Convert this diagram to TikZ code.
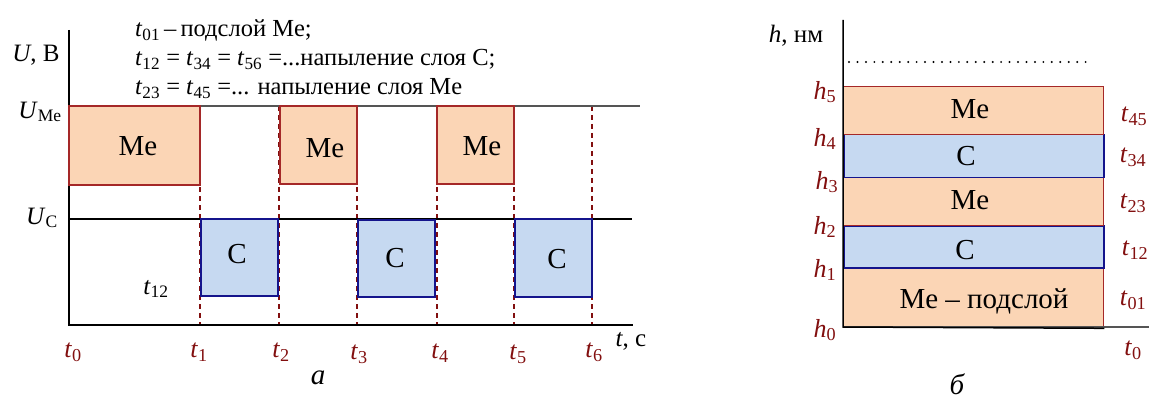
\documentclass[tikz,border=0pt]{standalone}
\usepackage{fontspec}
\setmainfont{Liberation Serif}
\usetikzlibrary{calc}
\definecolor{mefill}{RGB}{251,213,181}
\definecolor{meedge}{RGB}{165,40,40}
\definecolor{cfill}{RGB}{198,217,241}
\definecolor{cedge}{RGB}{20,20,140}
\definecolor{lblred}{RGB}{130,15,15}
\definecolor{axgray}{RGB}{85,85,85}
\newcommand{\tsb}[1]{\textit{t}\textsubscript{#1}}
\newcommand{\hsb}[1]{\textit{h}\textsubscript{#1}}
\begin{document}
\begin{tikzpicture}[x=1pt,y=-1pt,
  mebox/.style={draw=meedge,fill=mefill,line width=1.3pt},
  cbox/.style={draw=cedge,fill=cfill,line width=1.5pt},
  boxtext/.style={font=\fontsize{29}{32}\selectfont},
  lbl/.style={font=\fontsize{25}{29}\selectfont},
  redlbl/.style={font=\fontsize{26}{30}\selectfont,text=lblred},
  tdash/.style={draw=lblred,dashed,dash pattern=on 5pt off 4pt,line width=1.2pt},
  axis/.style={draw=black,line width=1.5pt},
  leg/.style={font=\fontsize{24.5}{28}\selectfont,anchor=base west,inner sep=0pt}]
\useasboundingbox (0,0) rectangle (1149,401);
% ---------- panel a ----------
\coordinate (tt1) at (200,106); \coordinate (tb1) at (200,325);
\coordinate (tt2) at (279,106); \coordinate (tb2) at (279,325);
\coordinate (tt3) at (357,106); \coordinate (tb3) at (357,325);
\coordinate (tt4) at (437,106); \coordinate (tb4) at (437,325);
\coordinate (tt5) at (514,106); \coordinate (tb5) at (514,325);
\coordinate (tt6) at (592,106); \coordinate (tb6) at (592,325);
\foreach \i in {1,...,6} { \draw[tdash] (tt\i) -- (tb\i); }
\coordinate (ya0) at (69,30); \coordinate (o) at (69,325);
\coordinate (ume0) at (69,106); \coordinate (ume1) at (640,106);
\coordinate (uc0) at (69,219); \coordinate (uc1) at (632,219);
\coordinate (xa1) at (633,325);
\draw[draw=axgray,line width=1.5pt] (ume0) -- (ume1);
\draw[line width=1.2pt] (uc0) -- (uc1);
\draw[axis] (ya0) -- (o) -- (xa1);
\node[mebox,minimum width=131pt,minimum height=79pt,inner sep=0pt] (me1) at (134.5,145.5) {};
\node[mebox,minimum width=77pt,minimum height=78pt,inner sep=0pt] (me2) at (318.5,145) {};
\node[mebox,minimum width=77pt,minimum height=78pt,inner sep=0pt] (me3) at (475.5,145) {};
\node[cbox,minimum width=77pt,minimum height=77pt,inner sep=0pt] (c1) at (239.5,257.5) {};
\node[cbox,minimum width=77pt,minimum height=77pt,inner sep=0pt] (c2) at (396.5,258.5) {};
\node[cbox,minimum width=77pt,minimum height=78pt,inner sep=0pt] (c3) at (553.5,258) {};
\node[boxtext] (me1t) at (138,146) {Me};
\node[boxtext] (me2t) at (325,148) {Me};
\node[boxtext] (me3t) at (482,146) {Me};
\node[boxtext] (c1t) at (237,254) {C};
\node[boxtext] (c2t) at (395,258) {C};
\node[boxtext] (c3t) at (557,259) {C};
\node[lbl] (uax) at (36,55) {\textit{U}, В};
\node[lbl] (ume) at (40,112) {\textit{U}\textsubscript{Me}};
\node[lbl] (uc) at (42,218) {\textit{U}\textsubscript{C}};
\node[lbl] (t12a) at (156,289) {\tsb{12}};
\node[redlbl] (l0) at (73,352) {\tsb{0}};
\node[redlbl] (l1) at (199,352) {\tsb{1}};
\node[redlbl] (l2) at (281,352) {\tsb{2}};
\node[redlbl] (l3) at (359,354) {\tsb{3}};
\node[redlbl] (l4) at (440,353) {\tsb{4}};
\node[redlbl] (l5) at (518,354) {\tsb{5}};
\node[redlbl] (l6) at (594,352) {\tsb{6}};
\node[lbl] (tax) at (631,341) {\textit{t}, с};
\node[leg] (leg1) at (135,37) {\tsb{01}\,–\,подслой Me;};
\node[leg] (leg2) at (135,66) {\tsb{12} = \tsb{34} = \tsb{56} =...напыление слоя С;};
\node[leg] (leg3) at (135,95) {\tsb{23} = \tsb{45} =... напыление слоя Me};
\node[font=\fontsize{29}{32}\selectfont\itshape] (capa) at (318,378) {а};
% ---------- panel b ----------
\coordinate (yb0) at (843,20); \coordinate (ob) at (843,327);
\coordinate (xb1) at (1149,327);
\node[mebox,anchor=north west,minimum width=260pt,minimum height=60pt,inner sep=0pt] (L0) at (843,267) {};
\node[cbox,anchor=north west,minimum width=260pt,minimum height=42pt,inner sep=0pt] (L1) at (843,225) {};
\node[mebox,anchor=north west,minimum width=260pt,minimum height=48pt,inner sep=0pt] (L2) at (843,177) {};
\node[cbox,anchor=north west,minimum width=260pt,minimum height=43pt,inner sep=0pt] (L3) at (843,134) {};
\node[mebox,anchor=north west,minimum width=260pt,minimum height=48pt,inner sep=0pt] (L4) at (843,86) {};
\draw[draw=axgray,line width=1.5pt] (ob) -- (xb1);
\draw[axis] (yb0) -- (ob) -- (L0.south east);
\coordinate (dot0) at (849,62); \coordinate (dot1) at (1093,62);
\draw[line width=2.2pt,line cap=round,dash pattern=on 0pt off 8.45pt] (dot0) -- (dot1);
\node[lbl] (hax) at (796,36) {\textit{h}, нм};
\node[boxtext] (L4t) at (970,109) {Me};
\node[boxtext] (L3t) at (966,156) {C};
\node[boxtext] (L2t) at (970,200) {Me};
\node[boxtext] (L1t) at (965,250) {C};
\node[boxtext,anchor=base,inner sep=0pt] (L0t) at (984,308) {Me – подслой};
\node[redlbl] (h5) at (825,92) {\hsb{5}};
\node[redlbl] (h4) at (825,139) {\hsb{4}};
\node[redlbl] (h3) at (827,182) {\hsb{3}};
\node[redlbl] (h2) at (825,227) {\hsb{2}};
\node[redlbl] (h1) at (825,270) {\hsb{1}};
\node[redlbl] (h0) at (825,330) {\hsb{0}};
\node[redlbl] (r45) at (1134,116) {\tsb{45}};
\node[redlbl] (r34) at (1133,157) {\tsb{34}};
\node[redlbl] (r23) at (1133,203) {\tsb{23}};
\node[redlbl] (r12) at (1135,250) {\tsb{12}};
\node[redlbl] (r01) at (1133,300) {\tsb{01}};
\node[redlbl] (r0) at (1133,350) {\tsb{0}};
\node[font=\fontsize{29}{32}\selectfont\itshape] (capb) at (957,384) {б};
\end{tikzpicture}
\end{document}
